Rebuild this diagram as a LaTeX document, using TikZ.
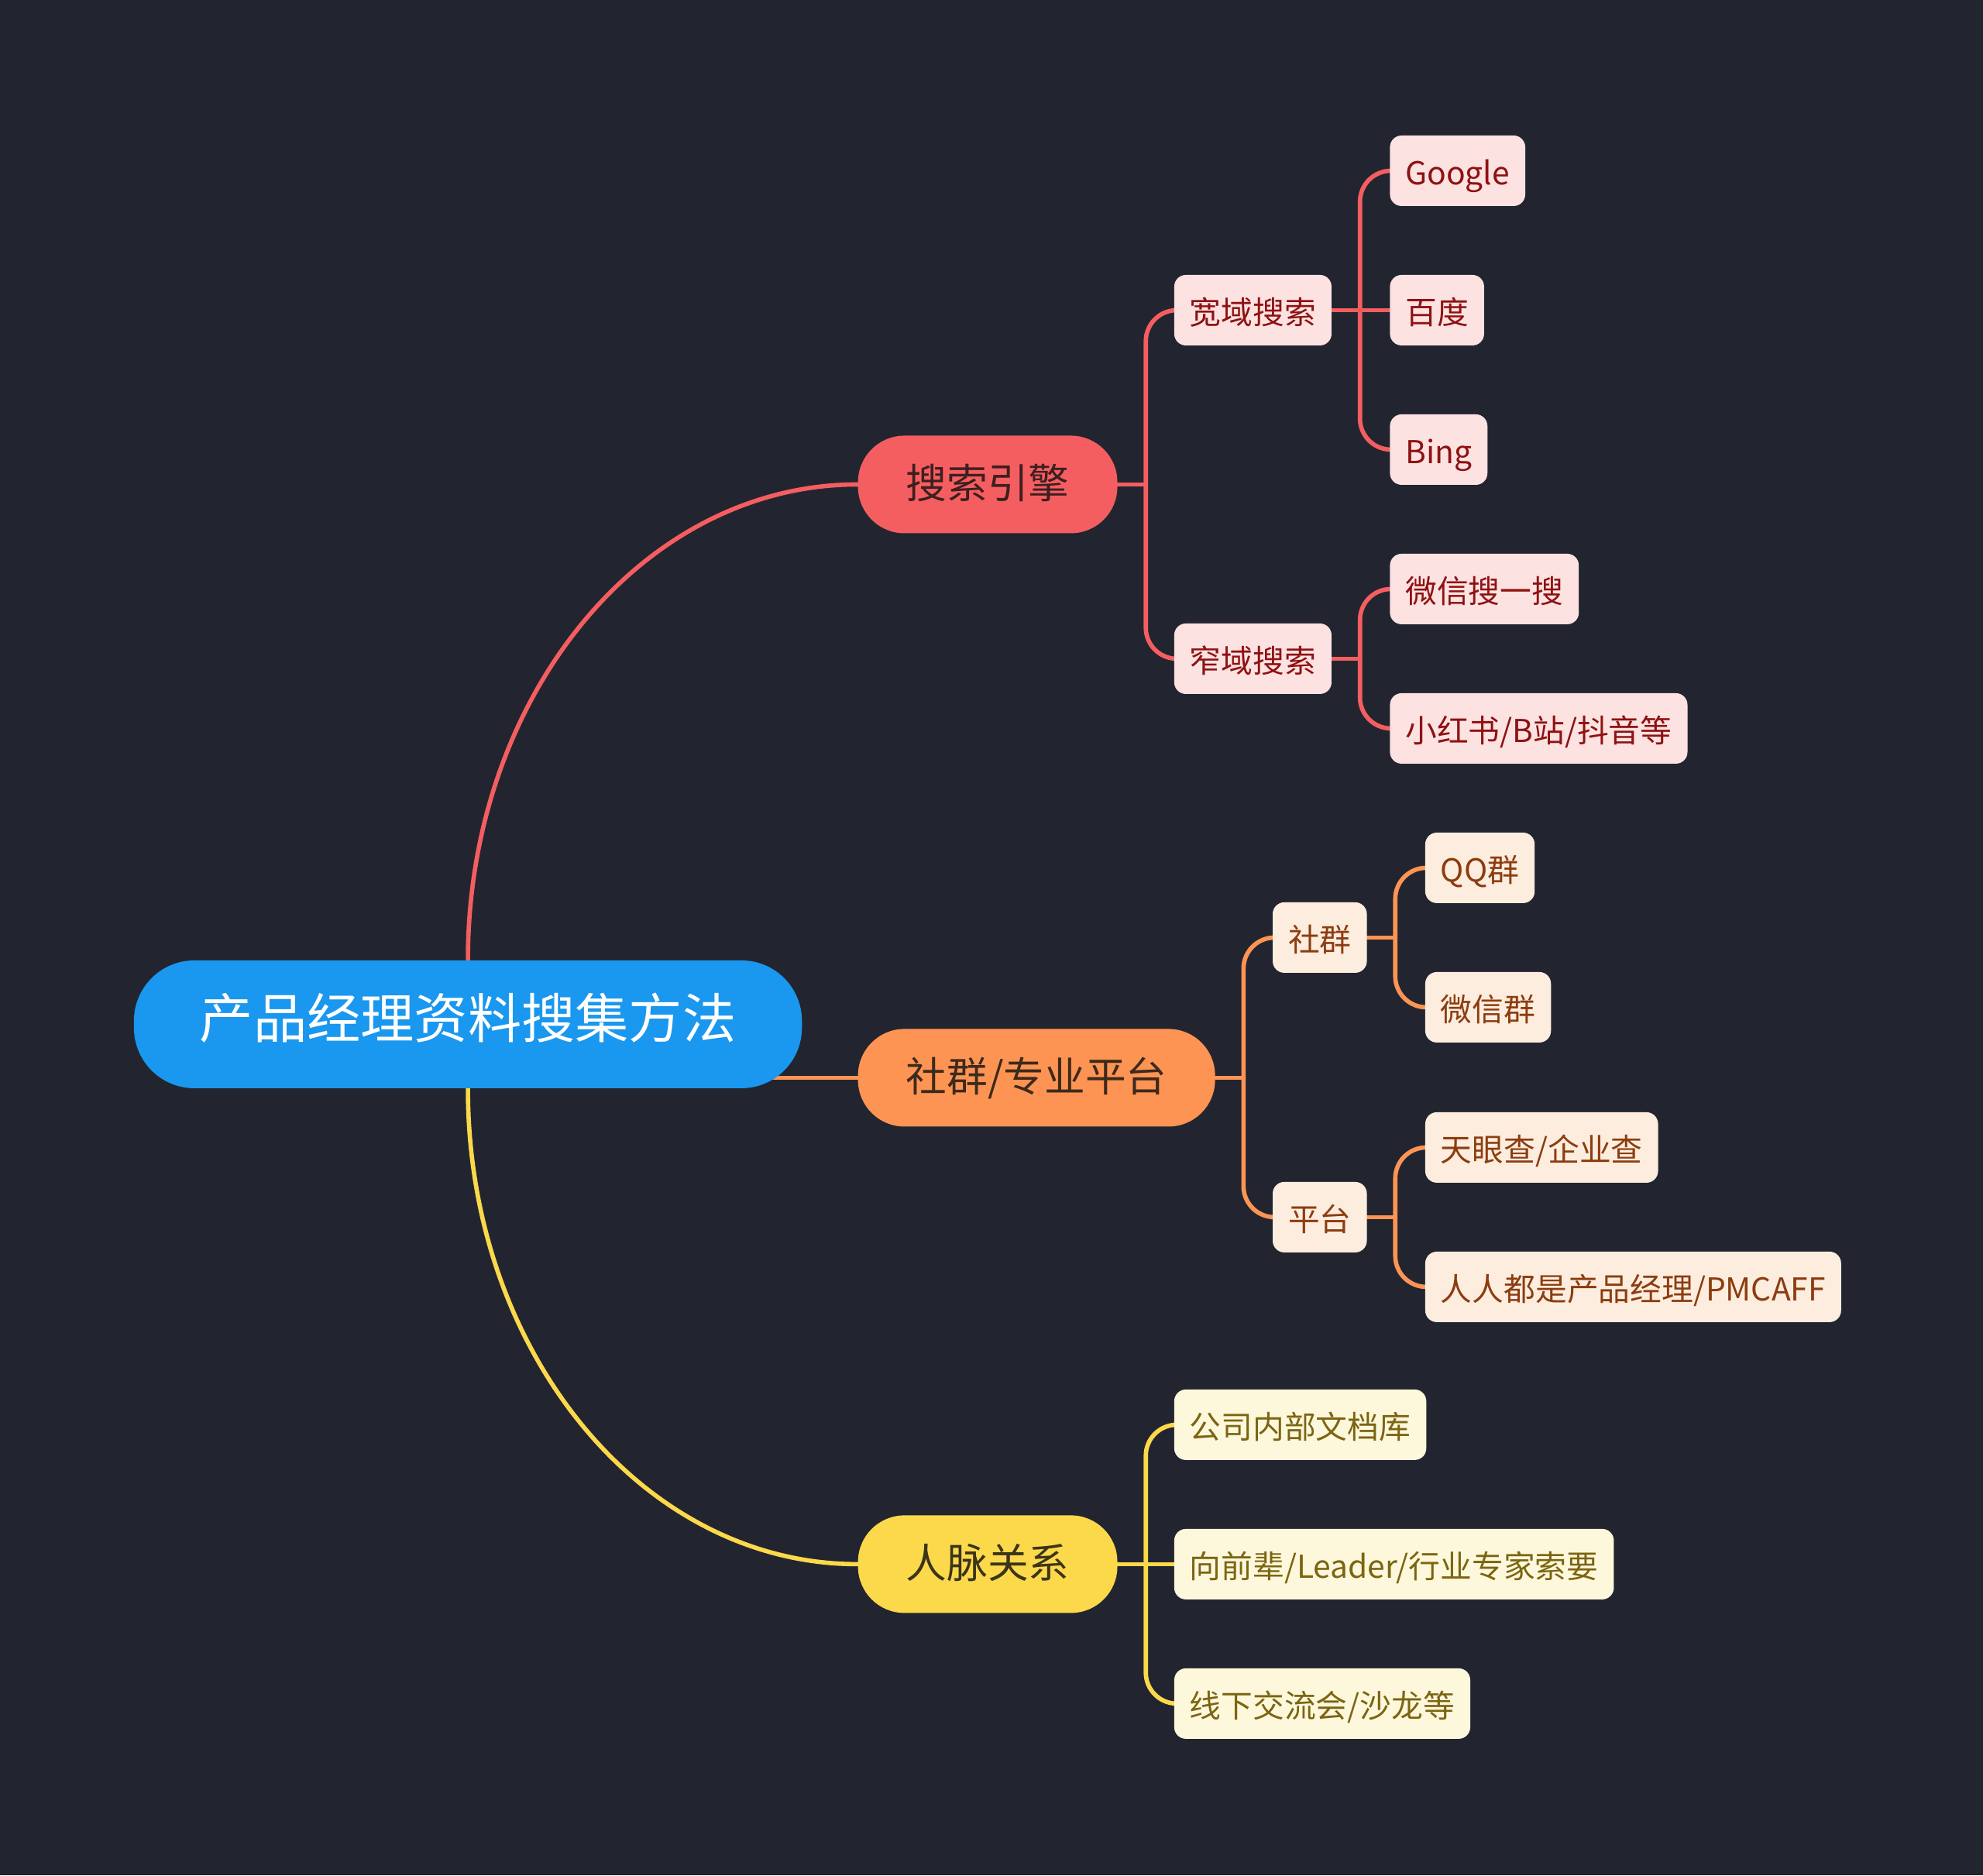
\documentclass[tikz,border=0pt]{standalone}
\usepackage{fontspec}
\setmainfont{Noto Sans CJK SC}
\usepackage{tikz}
\usetikzlibrary{positioning,backgrounds}
\definecolor{bgdark}{HTML}{22252F}
\definecolor{rootblue}{HTML}{1A97EE}
\definecolor{redmain}{HTML}{F55E60}
\definecolor{redleaf}{HTML}{FDE2E2}
\definecolor{redtext}{HTML}{8E1212}
\definecolor{redhead}{HTML}{3D1F20}
\definecolor{orgmain}{HTML}{FD9454}
\definecolor{orgleaf}{HTML}{FDEDDF}
\definecolor{orgtext}{HTML}{8C3D10}
\definecolor{orghead}{HTML}{3D2A1B}
\definecolor{ylwmain}{HTML}{FCD84B}
\definecolor{ylwleaf}{HTML}{FDF8DC}
\definecolor{ylwtext}{HTML}{7C6512}
\definecolor{ylwhead}{HTML}{3A3419}
\tikzset{
  rootbox/.style={fill=rootblue, text=white, rounded corners=0.78cm, minimum height=1.65cm, inner xsep=0.85cm, inner ysep=0pt, text height=1.05em, text depth=0pt, font=\fontsize{19.7}{24}\selectfont},
  branchbox/.style={rounded corners=0.6cm, minimum height=1.26cm, inner xsep=0.62cm, inner ysep=0pt, text height=1.05em, text depth=0pt, font=\fontsize{15}{18}\selectfont},
  leafbox/.style={rounded corners=0.15cm, minimum height=0.91cm, inner xsep=0.2cm, inner ysep=0pt, text height=1.05em, text depth=0pt, font=\fontsize{11.6}{14}\selectfont},
  redleafbox/.style={leafbox, fill=redleaf, text=redtext},
  orgleafbox/.style={leafbox, fill=orgleaf, text=orgtext},
  ylwleafbox/.style={leafbox, fill=ylwleaf, text=ylwtext},
  link/.style={line width=1.6pt, line cap=round}
}

\begin{document}
\begin{tikzpicture}[node distance=0.75cm]
\useasboundingbox (-6.041,-10.988) rectangle (19.560,13.225);
\node[rootbox] (root) {产品经理资料搜集方法};
% main branches
\node[branchbox, fill=redmain, text=redhead, right=0.71cm of root, yshift=6.97cm] (search) {搜索引擎};
\node[branchbox, fill=orgmain, text=orghead, right=0.71cm of root, yshift=-0.69cm] (social) {社群/专业平台};
\node[branchbox, fill=ylwmain, text=ylwhead, right=0.71cm of root, yshift=-6.97cm] (network) {人脉关系};
% search engines
\node[redleafbox, right=0.72cm of search, yshift=2.25cm] (wide) {宽域搜索};
\node[redleafbox, right=0.72cm of search, yshift=-2.25cm] (narrow) {窄域搜索};
\node[redleafbox, right=0.74cm of wide, yshift=1.8cm] (google) {Google};
\node[redleafbox, right=0.74cm of wide] (baidu) {百度};
\node[redleafbox, right=0.74cm of wide, yshift=-1.8cm] (bing) {Bing};
\node[redleafbox, right=0.74cm of narrow, yshift=0.9cm] (wxsearch) {微信搜一搜};
\node[redleafbox, right=0.74cm of narrow, yshift=-0.9cm] (xhs) {小红书/B站/抖音等};
% communities and platforms
\node[orgleafbox, right=0.73cm of social, yshift=1.81cm] (group) {社群};
\node[orgleafbox, right=0.73cm of social, yshift=-1.8cm] (platform) {平台};
\node[orgleafbox, right=0.74cm of group, yshift=0.9cm] (qq) {QQ群};
\node[orgleafbox, right=0.74cm of group, yshift=-0.9cm] (wxgroup) {微信群};
\node[orgleafbox, right=0.74cm of platform, yshift=0.9cm] (tianyan) {天眼查/企业查};
\node[orgleafbox, right=0.74cm of platform, yshift=-0.9cm] (pmcaff) {人人都是产品经理/PMCAFF};
% personal network
\node[ylwleafbox, right=0.72cm of network, yshift=1.8cm] (docs) {公司内部文档库};
\node[ylwleafbox, right=0.72cm of network] (seniors) {向前辈/Leader/行业专家索要};
\node[ylwleafbox, right=0.72cm of network, yshift=-1.8cm] (offline) {线下交流会/沙龙等};
% fork points
\foreach \p in {search,wide,narrow,social,group,platform,network}{\path (\p.east) ++(0.36cm,0) coordinate (\p Fork);}
\begin{pgfonlayer}{background}
\fill[bgdark] (-6.041,-10.988) rectangle (19.560,13.225);
\draw[link, draw=redmain] (root.north) .. controls +(0,3.39) and +(-2.78,0) .. (search.west);
\draw[link, draw=orgmain] (social.west) -- (social.west -| root.center);
\draw[link, draw=ylwmain] (root.south) .. controls +(0,-3.39) and +(-2.78,0) .. (network.west);
\foreach \p/\c in {search/redmain,wide/redmain,narrow/redmain,social/orgmain,group/orgmain,platform/orgmain,network/ylwmain}{\draw[link, draw=\c] (\p.east) -- (\p Fork);}
\foreach \p/\k/\c in {search/wide/redmain,search/narrow/redmain,wide/google/redmain,wide/bing/redmain,narrow/wxsearch/redmain,narrow/xhs/redmain,social/group/orgmain,social/platform/orgmain,group/qq/orgmain,group/wxgroup/orgmain,platform/tianyan/orgmain,platform/pmcaff/orgmain,network/docs/ylwmain,network/offline/ylwmain}{\draw[link, draw=\c, rounded corners=0.4cm] (\p Fork) |- (\k.west);}
\draw[link, draw=redmain] (wideFork) -- (baidu.west);
\draw[link, draw=ylwmain] (networkFork) -- (seniors.west);
\end{pgfonlayer}
\end{tikzpicture}
\end{document}
